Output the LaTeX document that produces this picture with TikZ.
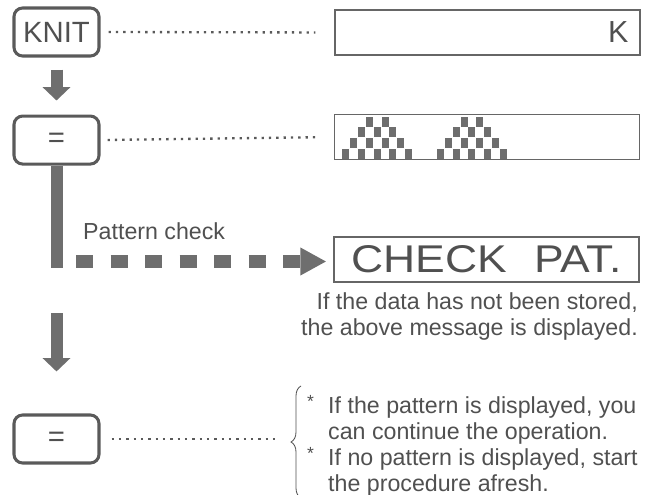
\documentclass[tikz,border=0pt]{standalone}
\usepackage{fontspec,graphicx}
\setmainfont{Liberation Sans}
\usetikzlibrary{arrows.meta,positioning,decorations.pathreplacing}
\definecolor{ink}{HTML}{505050}
\definecolor{keyc}{HTML}{5A5A5A}
\definecolor{arc}{HTML}{6E6E6E}
\definecolor{lcdc}{HTML}{666666}
\newcommand{\txtsz}{\fontsize{19.8}{22.4}\selectfont}
\newcommand{\bul}{\makebox[6.3mm][l]{\raisebox{0.25em}{\fontsize{15}{15}\selectfont *}}}
\tikzset{
  key/.style={draw=keyc,line width=2.6pt,rounded corners=2.6mm,minimum width=25.5mm,minimum height=14.4mm,
    inner sep=0pt,text=ink,font=\fontsize{25}{25}\selectfont},
  lcd/.style={draw=lcdc,line width=1pt,minimum width=91.5mm,minimum height=13.5mm,inner sep=0pt,text=ink},
  dots/.style={draw=keyc,line width=0.7mm,dash pattern=on 0.7mm off 1.5mm},
  ar/.style={draw=arc,line width=3.6mm,-{Triangle[width=8.1mm,length=4mm]}},
  bar/.style={draw=arc,line width=3.6mm},
  dar/.style={draw=arc,line width=3.9mm,dash pattern=on 5.1mm off 5.25mm,-{Triangle[width=7.8mm,length=7.8mm]}},
  txt/.style={text=ink,font=\txtsz,inner sep=0pt},
  cell/.style={fill=arc},
  brc/.style={draw=ink,line width=0.7pt,decorate,decoration={brace,amplitude=3mm}},
}
\begin{document}
\begin{tikzpicture}[x=0.3mm,y=-0.3mm]
\useasboundingbox (0,0) rectangle (651,495);
% keys on the left
\node[key] (knit) at (56.5,32) {KNIT};
\node[key,below=17.1mm of knit] (eqa) {=};
\node[key] (eqb) at (56.5,439) {=};
% displays on the right
\node[lcd,text width=84.5mm,inner xsep=3.5mm,align=right,font=\fontsize{26}{26}\selectfont] (dspa) at (487.5,32.5) {K};
\node[lcd] (dspb) at (487,137) {};
\node[lcd,font=\fontsize{33}{33}\selectfont] (chk) at (486.5,259.5) {\scalebox{1.15}[1]{CHECK\hspace{7mm}PAT.}\hspace{4mm}};
% knitting pattern in the second display
\foreach \t in {0,12}
  \foreach \r/\cl in {0/{0,2,4,6,8},1/{1,3,5,7},2/{2,4,6},3/{3,5}}
    \foreach \c in \cl
      \fill[cell] ({342+(\t+\c)*7.9},{159-\r*10.8}) rectangle ++(7,-10);
% flow
\coordinate (pc) at (56.5,268);
\coordinate (ds) at (76,261.5);
\coordinate (resume) at (56.5,313);
\coordinate (bt) at (290,439);
\draw[ar,shorten <=3.6mm,shorten >=4.2mm] (knit.south) -- (eqa.north);
\draw[bar] (eqa.south) -- (pc);
\draw[dar,shorten >=2.1mm] (ds) -- (chk.west |- ds);
\draw[ar,shorten >=12.6mm] (resume) -- (eqb.north);
\draw[dots,shorten <=2.4mm,shorten >=5.7mm] (knit.east) -- (dspa.west);
\draw[dots,shorten <=2.1mm,shorten >=5.4mm] (eqa.east) -- (dspb.west);
\draw[dots,shorten <=3.3mm,shorten >=3mm] (eqb.east) -- (bt);
% texts
\node[txt,anchor=base west] (pclab) at (83,239) {Pattern check};
\node[txt,anchor=north east,align=right] (miss) at (638,292)
  {If the data has not been stored,\\the above message is displayed.};
\draw[brc] (301,498) -- (301,386);
\node[txt,anchor=north west,align=left] (hint) at (307,395)
  {\bul If the pattern is displayed, you\\\hspace*{6.3mm}can continue the operation.\\
   \bul If no pattern is displayed, start\\\hspace*{6.3mm}the procedure afresh.};
\end{tikzpicture}
\end{document}
